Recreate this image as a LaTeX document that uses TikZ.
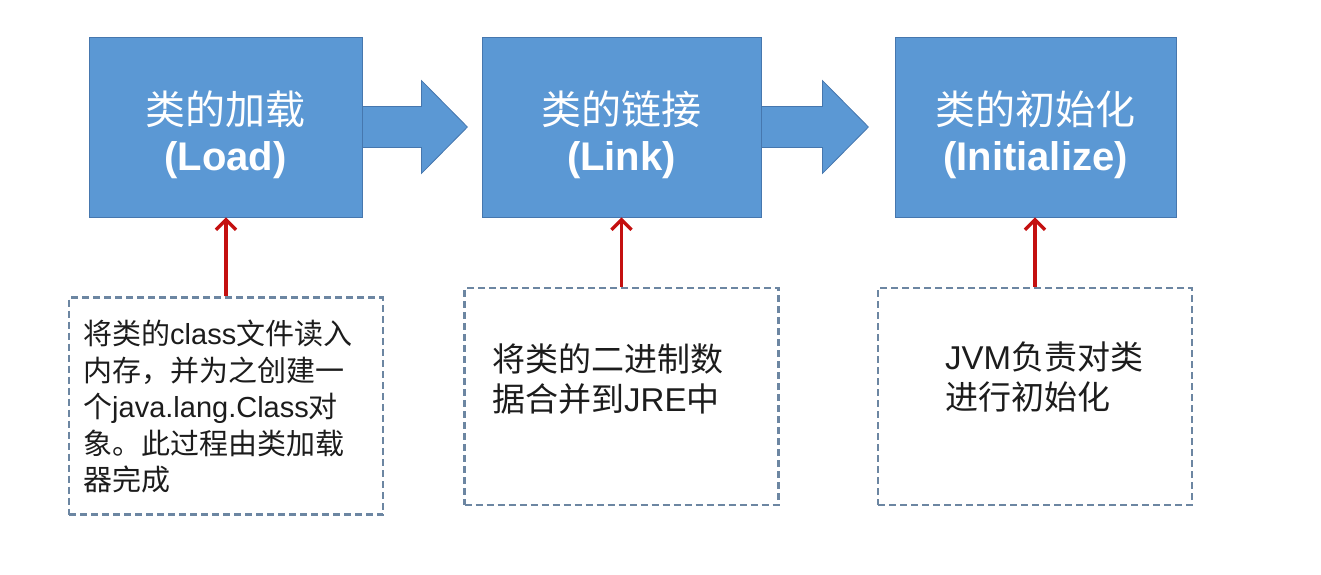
\documentclass[tikz,border=0pt]{standalone}
\usepackage{fontspec}
\setmainfont{Liberation Sans}
\newfontfamily\cjk{Noto Sans CJK SC}
\usetikzlibrary{arrows.meta}
\definecolor{boxblue}{HTML}{5B98D4}
\definecolor{boxedge}{HTML}{4677AE}
\definecolor{dashgray}{HTML}{6C86A2}
\definecolor{arrowred}{HTML}{C41010}
\definecolor{notetext}{HTML}{1C1C1C}
\begin{document}
\begin{tikzpicture}[x=1pt,y=-1pt,
  stage/.style={draw=boxedge, line width=0.8pt, fill=boxblue, text=white,
    minimum height=180pt, inner sep=0pt, align=center,
    font=\fontsize{40}{46}\selectfont},
  notebox/.style={draw=dashgray, line width=2.2pt, dash pattern=on 7pt off 4pt,
    minimum width=314pt, minimum height=217pt, inner sep=0pt},
  notetxt/.style={anchor=north west, inner sep=0pt, align=left, text=notetext},
  bigarrow/.style={draw=boxedge, line width=0.8pt, fill=boxblue, line join=miter},
  redarrow/.style={draw=arrowred, line width=3.4pt,
    -{Straight Barb[length=10pt,width=20pt,line width=3.4pt]}}
]
\useasboundingbox (0,0) rectangle (1321,574);

% stage boxes
\node[stage, minimum width=273pt] (b1) at (225.5,127)
  {\rule{0pt}{49pt}{\cjk 类的加载}\\\textbf{(Load)}};
\node[stage, minimum width=279pt] (b2) at (621.5,127)
  {\rule{0pt}{49pt}{\cjk 类的链接}\\\textbf{(Link)}};
\node[stage, minimum width=281pt] (b3) at (1035.5,127)
  {\rule{0pt}{49pt}{\cjk 类的初始化}\\\textbf{(Initialize)}};

% block arrows
\draw[bigarrow] (b1.east) ++(0,-20.5) -- ++(59,0) -- ++(0,-26) -- ++(46,46.5)
  -- ++(-46,46.5) -- ++(0,-26) -- ++(-59,0) -- cycle;
\draw[bigarrow] (b2.east) ++(0,-20.5) -- ++(61,0) -- ++(0,-26) -- ++(46,46.5)
  -- ++(-46,46.5) -- ++(0,-26) -- ++(-61,0) -- cycle;

% note boxes
\node[notebox] (n1) at (226,406) {};
\node[notebox] (n2) at (621.5,396.5) {};
\node[notebox] (n3) at (1035,396.5) {};

% note texts
\node[notetxt, font=\fontsize{29}{36.5}\selectfont] (t1) at (83,320)
  {{\cjk 将类的}class{\cjk 文件读入}\\
   {\cjk 内存，并为之创建一}\\
   {\cjk 个}java.lang.Class{\cjk 对}\\
   {\cjk 象。此过程由类加载}\\
   {\cjk 器完成}};
\node[notetxt, font=\fontsize{33}{40}\selectfont] (t2) at (492,343)
  {{\cjk 将类的二进制数}\\
   {\cjk 据合并到}JRE{\cjk 中}};
\node[notetxt, font=\fontsize{33}{40}\selectfont] (t3) at (945,342)
  {JVM{\cjk 负责对类}\\
   {\cjk 进行初始化}};

% red arrows
\draw[redarrow] (n1.north) -- (n1.north |- b1.south);
\draw[redarrow] (n2.north) -- (n2.north |- b2.south);
\draw[redarrow] (n3.north) -- (n3.north |- b3.south);
\end{tikzpicture}
\end{document}
